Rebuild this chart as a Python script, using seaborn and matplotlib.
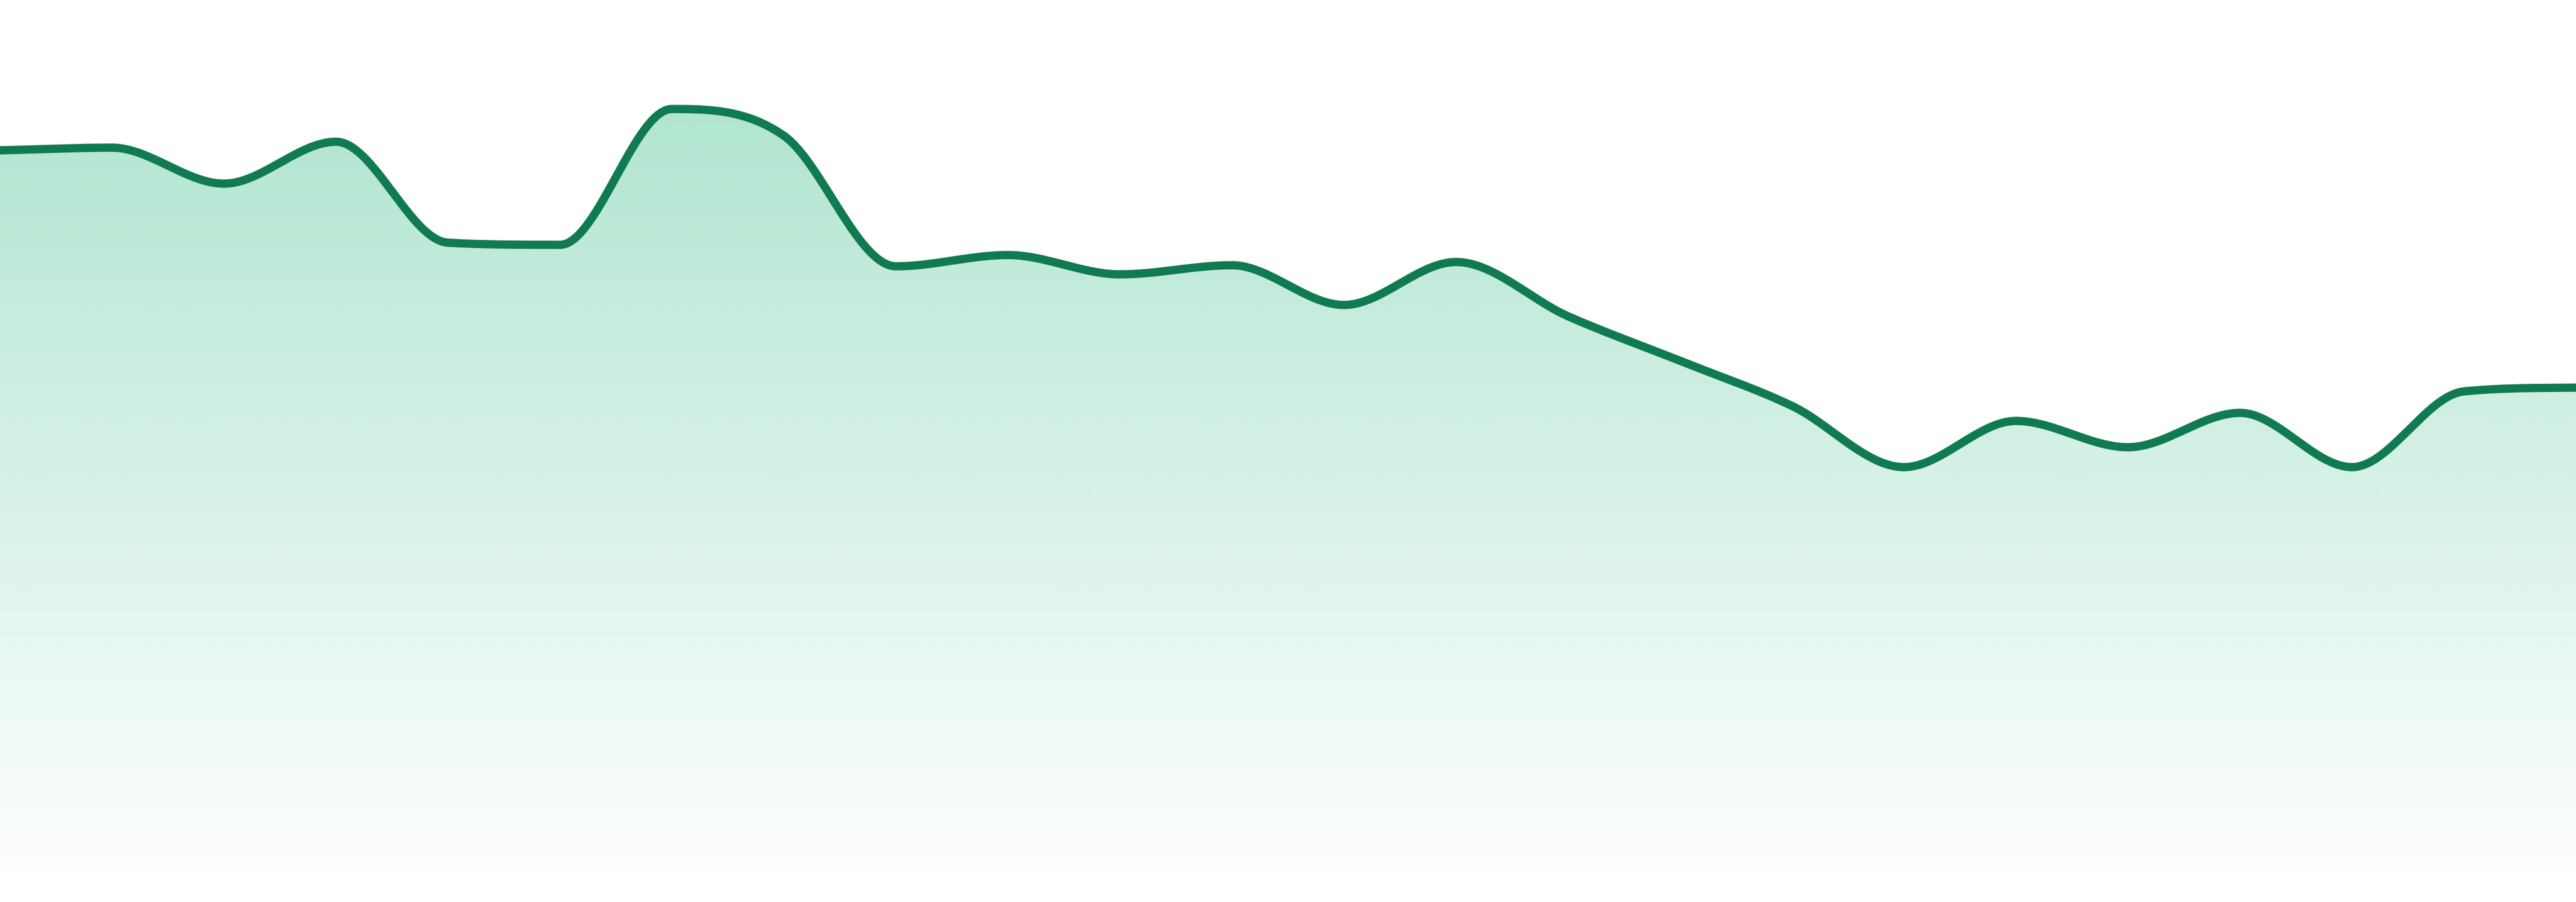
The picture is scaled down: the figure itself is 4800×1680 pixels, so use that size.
import numpy as np
import pandas as pd
import matplotlib
matplotlib.use("Agg")
import matplotlib.pyplot as plt
import seaborn as sns

# ---- data ----
index = list(range(24))
values = [135.2, 135.7, 129.0, 136.8, 118.0, 117.6, 142.9, 137.9,
          113.6, 115.7, 112.1, 113.8, 106.4, 114.4, 104.3, 96.0,
          87.6, 76.2, 84.8, 79.9, 86.3, 76.2, 90.3, 91.0]

line_color = "#107b50"
fill_rgb = (42 / 255, 185 / 255, 128 / 255)


def monotone_curve(xs, ys, n=80):
    """Monotone cubic (Fritsch-Carlson, Chart.js style) dense samples."""
    xs = np.asarray(xs, float)
    ys = np.asarray(ys, float)
    m = len(xs)
    h = np.diff(xs)
    d = np.diff(ys) / h
    mk = np.zeros(m)
    for i in range(m):
        if i == 0:
            mk[i] = d[0]
        elif i == m - 1:
            mk[i] = d[-1]
        elif np.sign(d[i - 1]) != np.sign(d[i]):
            mk[i] = 0.0
        else:
            mk[i] = (d[i - 1] + d[i]) / 2
    for i in range(m - 1):
        if abs(d[i]) < 1e-9:
            mk[i] = mk[i + 1] = 0.0
            continue
        a = mk[i] / d[i]
        b = mk[i + 1] / d[i]
        sq = a * a + b * b
        if sq <= 9:
            continue
        tau = 3 / np.sqrt(sq)
        mk[i] = a * tau * d[i]
        mk[i + 1] = b * tau * d[i]
    px, py = [], []
    u = np.linspace(0, 1, n)
    for i in range(m - 1):
        dx = h[i] / 3
        P0 = (xs[i], ys[i])
        P1 = (xs[i] + dx, ys[i] + dx * mk[i])
        P2 = (xs[i + 1] - dx, ys[i + 1] - dx * mk[i + 1])
        P3 = (xs[i + 1], ys[i + 1])
        b0 = (1 - u) ** 3
        b1 = 3 * (1 - u) ** 2 * u
        b2 = 3 * (1 - u) * u ** 2
        b3 = u ** 3
        bx = b0 * P0[0] + b1 * P1[0] + b2 * P2[0] + b3 * P3[0]
        by = b0 * P0[1] + b1 * P1[1] + b2 * P2[1] + b3 * P3[1]
        if i > 0:
            bx, by = bx[1:], by[1:]
        px.append(bx)
        py.append(by)
    return np.concatenate(px), np.concatenate(py)


sns.set_theme(style="white")
fig = plt.figure(figsize=(16, 5.6), dpi=300)
ax = fig.add_axes([0, 0, 1, 1])
ymin, ymax = -4.8, 163.2
ax.set_xlim(0, 23)
ax.set_ylim(ymin, ymax)

cx, cy = monotone_curve(index, values)
curve = pd.DataFrame({"x": cx, "y": cy})

# gradient fill under the curve
poly = ax.fill_between(curve["x"], curve["y"], 0, color="none", lw=0)
H = 600
yy = np.linspace(ymax, ymin, H)
top_v, bot_v = 151.9, -1.8
alpha = np.clip(0.39 * (yy - bot_v) / (top_v - bot_v), 0, 0.39)
alpha[yy < 0] = 0
img = np.zeros((H, 2, 4))
img[..., 0] = fill_rgb[0]
img[..., 1] = fill_rgb[1]
img[..., 2] = fill_rgb[2]
img[..., 3] = alpha[:, None]
im = ax.imshow(img, extent=(0, 23, ymin, ymax), aspect="auto",
               interpolation="bilinear", zorder=1)
im.set_clip_path(poly.get_paths()[0], transform=ax.transData)

sns.lineplot(data=curve, x="x", y="y", sort=False, estimator=None,
             color=line_color, linewidth=3.7, ax=ax, zorder=3)

ax.set_axis_off()
ax.set_xlim(0, 23)
ax.set_ylim(ymin, ymax)
fig.savefig("out.png", dpi=300, facecolor="white")
